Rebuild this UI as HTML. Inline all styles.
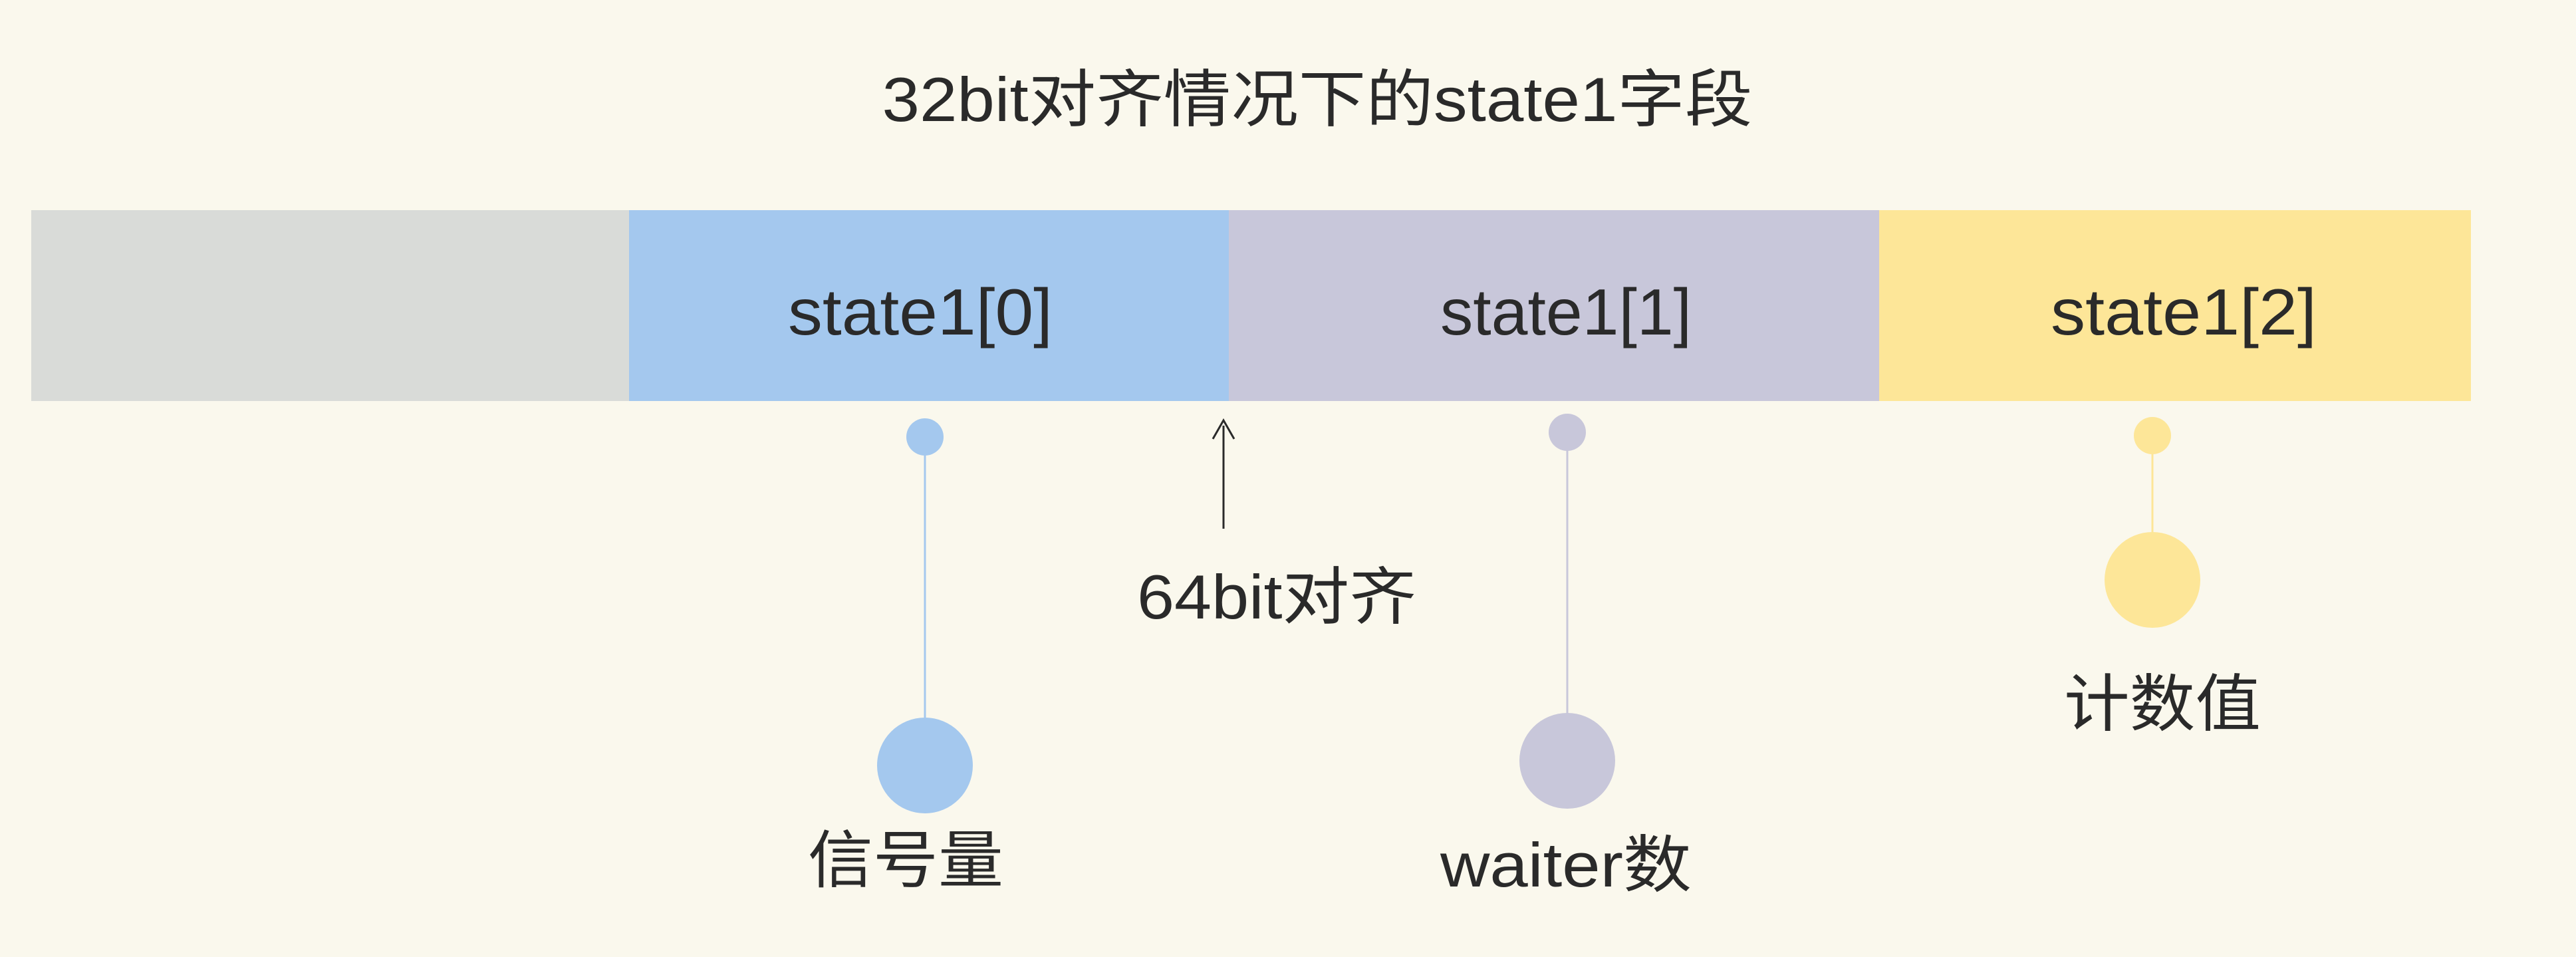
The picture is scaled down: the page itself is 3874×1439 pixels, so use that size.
<!DOCTYPE html>
<html><head><meta charset="utf-8"><style>
html,body{margin:0;padding:0;}
body{width:3874px;height:1439px;background:#faf8ed;overflow:hidden;position:relative;font-family:"Liberation Sans","Noto Sans CJK SC",sans-serif;color:#2a2a2a;}
</style></head><body>
<svg width="3874" height="1439" xmlns="http://www.w3.org/2000/svg" style="position:absolute;left:0;top:0">
<g font-family="Liberation Sans, Noto Sans CJK SC, sans-serif" fill="#2a2a2a" text-anchor="middle">
<text x="1981" y="182" font-size="94" textLength="1309" lengthAdjust="spacingAndGlyphs">32bit对齐情况下的state1字段</text>
<rect x="47" y="316" width="900" height="287" fill="#d9dbd8"/>
<rect x="946" y="316" width="902" height="287" fill="#a4c8ee"/>
<rect x="1848" y="316" width="978" height="287" fill="#c8c7da"/>
<rect x="2826" y="316" width="890" height="287" fill="#fde698"/>
<text x="1384" y="503" font-size="98" textLength="398" lengthAdjust="spacingAndGlyphs">state1[0]</text>
<text x="2355" y="503" font-size="98" textLength="378" lengthAdjust="spacingAndGlyphs">state1[1]</text>
<text x="3284" y="503" font-size="98" textLength="400" lengthAdjust="spacingAndGlyphs">state1[2]</text>
<line x1="1391" y1="657" x2="1391" y2="1100" stroke="#a4c8ee" stroke-width="3"/>
<circle cx="1391" cy="657" r="28" fill="#a4c8ee"/>
<circle cx="1391" cy="1151" r="72" fill="#a4c8ee"/>
<text x="1362" y="1326" font-size="94" textLength="294" lengthAdjust="spacingAndGlyphs">信号量</text>
<line x1="1840" y1="640" x2="1840" y2="795" stroke="#2a2a2a" stroke-width="3"/>
<polyline points="1824,660 1840,632 1856,660" fill="none" stroke="#2a2a2a" stroke-width="3"/>
<text x="1920" y="930" font-size="94" textLength="420" lengthAdjust="spacingAndGlyphs">64bit对齐</text>
<line x1="2357" y1="650" x2="2357" y2="1090" stroke="#c8c7da" stroke-width="3"/>
<circle cx="2357" cy="650" r="28" fill="#c8c7da"/>
<circle cx="2357" cy="1144" r="72" fill="#c8c7da"/>
<text x="2355" y="1333" font-size="94" textLength="378" lengthAdjust="spacingAndGlyphs">waiter数</text>
<line x1="3237" y1="655" x2="3237" y2="810" stroke="#fde698" stroke-width="3"/>
<circle cx="3237" cy="655" r="28" fill="#fde698"/>
<circle cx="3237" cy="872" r="72" fill="#fde698"/>
<text x="3252" y="1091" font-size="94" textLength="296" lengthAdjust="spacingAndGlyphs">计数值</text>
</g>
</svg>
</body></html>
